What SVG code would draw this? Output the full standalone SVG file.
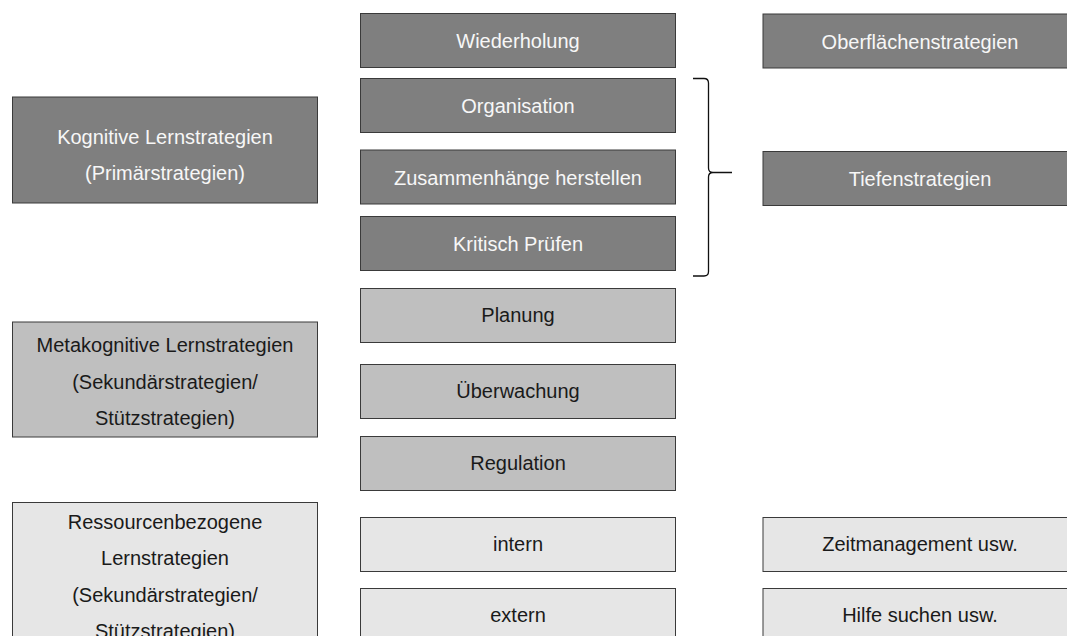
<svg xmlns="http://www.w3.org/2000/svg" width="1067" height="636" viewBox="0 0 1067 636">
  <style>
    text { font-family: "Liberation Sans", Arial, sans-serif; font-size: 20px; text-anchor: middle; }
    .dark rect { fill: #7f7f7f; stroke: #3a3a3a; stroke-width: 1; }
    .dark text { fill: #f7f7f7; }
    .mid rect { fill: #bfbfbf; stroke: #3a3a3a; stroke-width: 1; }
    .mid text { fill: #1a1a1a; }
    .light rect { fill: #e6e6e6; stroke: #3a3a3a; stroke-width: 1; }
    .light text { fill: #1a1a1a; }
    .brace { fill: none; stroke: #111; stroke-width: 1.3; }
  </style>
  <rect width="1067" height="636" fill="#fff"/>

  <!-- left column: strategy categories -->
  <g id="kognitiv" class="dark">
    <rect x="12.5" y="97" width="305" height="106"/>
    <text x="165" y="144">Kognitive Lernstrategien</text>
    <text x="165" y="180">(Primärstrategien)</text>
  </g>
  <g id="metakognitiv" class="mid">
    <rect x="12.5" y="322" width="305" height="115"/>
    <text x="165" y="352">Metakognitive Lernstrategien</text>
    <text x="165" y="388.5">(Sekundärstrategien/</text>
    <text x="165" y="425">Stützstrategien)</text>
  </g>
  <g id="ressourcen" class="light">
    <rect x="12.5" y="502.5" width="305" height="150"/>
    <text x="165" y="528.5">Ressourcenbezogene</text>
    <text x="165" y="565">Lernstrategien</text>
    <text x="165" y="601.5">(Sekundärstrategien/</text>
    <text x="165" y="638">Stützstrategien)</text>
  </g>

  <!-- middle column: individual strategies -->
  <g id="wiederholung" class="dark">
    <rect x="360.5" y="13.5" width="315" height="54"/>
    <text x="518" y="48">Wiederholung</text>
  </g>
  <g id="organisation" class="dark">
    <rect x="360.5" y="78.5" width="315" height="54"/>
    <text x="518" y="113">Organisation</text>
  </g>
  <g id="zusammenhaenge" class="dark">
    <rect x="360.5" y="150" width="315" height="54"/>
    <text x="518" y="184.5">Zusammenhänge herstellen</text>
  </g>
  <g id="kritisch" class="dark">
    <rect x="360.5" y="216.5" width="315" height="54"/>
    <text x="518" y="251">Kritisch Prüfen</text>
  </g>
  <g id="planung" class="mid">
    <rect x="360.5" y="288.5" width="315" height="54"/>
    <text x="518" y="322">Planung</text>
  </g>
  <g id="ueberwachung" class="mid">
    <rect x="360.5" y="364.5" width="315" height="54"/>
    <text x="518" y="398">Überwachung</text>
  </g>
  <g id="regulation" class="mid">
    <rect x="360.5" y="436.5" width="315" height="54"/>
    <text x="518" y="470">Regulation</text>
  </g>
  <g id="intern" class="light">
    <rect x="360.5" y="517.5" width="315" height="54"/>
    <text x="518" y="551">intern</text>
  </g>
  <g id="extern" class="light">
    <rect x="360.5" y="588.5" width="315" height="54"/>
    <text x="518" y="622">extern</text>
  </g>

  <!-- right column: groupings -->
  <g id="oberflaeche" class="dark">
    <rect x="763" y="14" width="315" height="54"/>
    <text x="920" y="48.5">Oberflächenstrategien</text>
  </g>
  <g id="tiefen" class="dark">
    <rect x="763" y="151.5" width="315" height="54"/>
    <text x="920" y="186">Tiefenstrategien</text>
  </g>
  <g id="zeitmanagement" class="light">
    <rect x="763" y="517.5" width="315" height="54"/>
    <text x="920" y="551">Zeitmanagement usw.</text>
  </g>
  <g id="hilfe" class="light">
    <rect x="763" y="588.5" width="315" height="54"/>
    <text x="920" y="622">Hilfe suchen usw.</text>
  </g>

  <!-- connectors: curly brace grouping the deep strategies -->
  <g id="connectors">
    <path class="brace" d="M693,78.5 H704 Q708.5,78.5 708.5,83 V168 Q708.5,172.5 713,172.5 H732 M713,172.5 Q708.5,172.5 708.5,177 V271.5 Q708.5,276 704,276 H693"/>
  </g>
</svg>
